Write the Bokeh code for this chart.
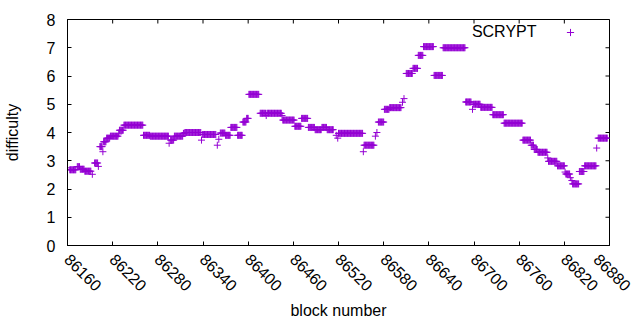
import math
from bokeh.plotting import figure
from bokeh.models import Range1d, FixedTicker, Label, Legend, LegendItem
from bokeh.embed import file_html
from bokeh.resources import INLINE

# Runs of consecutive blocks sharing the same difficulty
run_start = [86160, 86163, 86173, 86177, 86183, 86193, 86196, 86201, 86203, 86207,
             86208, 86212, 86217, 86228, 86229, 86235, 86261, 86270, 86295, 86297,
             86302, 86314, 86316, 86338, 86339, 86359, 86361, 86363, 86370, 86377,
             86386, 86393, 86398, 86401, 86416, 86424, 86425, 86445, 86446, 86462,
             86471, 86480, 86489, 86498, 86505, 86517, 86519, 86520, 86553, 86554,
             86569, 86571, 86573, 86581, 86588, 86605, 86607, 86610, 86619, 86626,
             86633, 86647, 86659, 86689, 86698, 86699, 86709, 86725, 86740, 86765,
             86776, 86780, 86785, 86798, 86799, 86811, 86821, 86822, 86828, 86830,
             86831, 86840, 86847, 86863, 86865]
run_end = [86160, 86171, 86176, 86182, 86191, 86193, 86200, 86201, 86206, 86207,
           86211, 86216, 86227, 86228, 86234, 86260, 86269, 86294, 86295, 86301,
           86313, 86315, 86337, 86338, 86357, 86359, 86361, 86369, 86376, 86385,
           86392, 86397, 86400, 86414, 86423, 86424, 86444, 86445, 86461, 86470,
           86479, 86488, 86497, 86504, 86513, 86517, 86519, 86552, 86553, 86567,
           86569, 86571, 86580, 86587, 86603, 86605, 86607, 86618, 86625, 86632,
           86646, 86658, 86688, 86696, 86698, 86708, 86724, 86739, 86764, 86775,
           86779, 86784, 86797, 86798, 86810, 86820, 86821, 86827, 86828, 86830,
           86839, 86846, 86862, 86863, 86877]
run_difficulty = [2.75, 2.68, 2.79, 2.70, 2.63, 2.52, 2.92, 2.80, 3.50, 3.32,
                  3.67, 3.80, 3.87, 3.95, 4.08, 4.26, 3.90, 3.87, 3.62, 3.73,
                  3.87, 3.97, 4.00, 3.73, 3.93, 3.55, 3.76, 3.98, 3.90, 4.18,
                  3.90, 4.37, 4.50, 5.35, 4.68, 4.60, 4.68, 4.60, 4.44, 4.22,
                  4.50, 4.18, 4.10, 4.18, 4.10, 3.90, 3.80, 3.97, 3.32, 3.55,
                  3.87, 4.00, 4.37, 4.82, 4.88, 5.07, 5.20, 6.09, 6.27, 6.73,
                  7.04, 6.02, 7.00, 5.08, 4.82, 5.00, 4.89, 4.63, 4.33, 3.73,
                  3.55, 3.40, 3.30, 3.10, 2.98, 2.82, 2.60, 2.53, 2.40, 2.30,
                  2.18, 2.62, 2.82, 3.45, 3.80]

x_ticks = [86160, 86220, 86280, 86340, 86400, 86460, 86520, 86580, 86640,
           86700, 86760, 86820, 86880]
y_ticks = [0, 1, 2, 3, 4, 5, 6, 7, 8]
series_name = "SCRYPT"

blocks, difficulty = [], []
for s, e, v in zip(run_start, run_end, run_difficulty):
    for b in range(s, e + 1):
        blocks.append(b)
        difficulty.append(v)

FONT = "Liberation Sans"
COLOR = "#9400D3"

p = figure(width=632, height=322, output_backend="svg", toolbar_location=None,
           x_range=Range1d(x_ticks[0], x_ticks[-1]), y_range=Range1d(y_ticks[0], y_ticks[-1]),
           min_border_left=64, min_border_right=23, min_border_top=19,
           min_border_bottom=76)
p.grid.visible = False
p.outline_line_color = "black"
p.outline_line_width = 1

r = p.scatter(blocks, difficulty, marker="cross", size=7,
              line_color=COLOR, line_width=1)

for ax, ticks in ((p.xaxis[0], x_ticks), (p.yaxis[0], y_ticks)):
    ax.ticker = FixedTicker(ticks=ticks)
    ax.major_tick_in = 4
    ax.major_tick_out = 0
    ax.minor_tick_in = 0
    ax.minor_tick_out = 0
    ax.axis_line_color = "black"
    ax.major_tick_line_color = "black"
    ax.major_label_text_font = FONT
    ax.major_label_text_font_size = "16px"
    ax.major_label_text_color = "black"
    ax.axis_label_text_font = FONT
    ax.axis_label_text_font_size = "16px"
    ax.axis_label_text_font_style = "normal"
    ax.axis_label_text_color = "black"

p.xaxis[0].axis_label = "block number"
p.xaxis[0].major_label_orientation = -math.pi / 4
p.xaxis[0].major_label_standoff = 11
p.xaxis[0].axis_label_standoff = 3
p.yaxis[0].axis_label = "difficulty"
p.yaxis[0].major_label_standoff = 12
p.yaxis[0].axis_label_standoff = 23

# mirrored inward ticks on the top and right borders (half of each dash is clipped by the frame)
p.scatter(x_ticks, [y_ticks[-1]] * len(x_ticks), marker="dash", angle=math.pi / 2,
          size=8, line_color="black", line_width=1)
p.scatter([x_ticks[-1]] * len(y_ticks), y_ticks, marker="dash",
          size=8, line_color="black", line_width=1)

# key: text on the left, sample marker on the right (gnuplot style)
legend = Legend(items=[LegendItem(label=" ", renderers=[r])], location=(494, 204),
                glyph_width=18, glyph_height=18, label_standoff=0, label_width=0,
                label_height=18, label_text_font_size="4px", padding=0, margin=0,
                border_line_alpha=0, background_fill_alpha=0)
p.add_layout(legend, "center")
p.add_layout(Label(x=469, y=214, x_units="screen", y_units="screen", text=series_name,
                   text_align="right", text_baseline="middle", text_font=FONT,
                   text_font_size="16px", text_color="black"))

open("out.html", "w").write(file_html(p, INLINE))
